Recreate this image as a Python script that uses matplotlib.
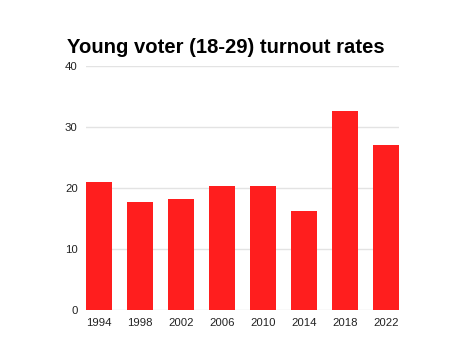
import matplotlib
matplotlib.use("Agg")
import matplotlib.pyplot as plt

years = ["1994", "1998", "2002", "2006", "2010", "2014", "2018", "2022"]
turnout = [20.9, 17.7, 18.2, 20.3, 20.3, 16.2, 32.6, 27.0]
yticks = [0, 10, 20, 30, 40]

fig = plt.figure(figsize=(4.75, 3.56), dpi=100)
ax = fig.add_axes([0.181, 0.129, 0.659, 0.686])

x = range(len(years))
ax.bar(x, turnout, width=0.64, color="#ff1e1e", zorder=3)

ax.set_xlim(-0.32, len(years) - 1 + 0.32)
ax.set_ylim(0, 40)
ax.set_yticks(yticks)
ax.set_yticklabels([str(t) for t in yticks], fontsize=8.2, family="Liberation Sans", color="#222222")
ax.set_xticks(list(x))
ax.set_xticklabels(years, fontsize=8.2, family="Liberation Sans", color="#222222")
ax.tick_params(length=0, pad=6)
ax.tick_params(axis="y", pad=6)
ax.grid(axis="y", color="#e3e3e3", linewidth=1, zorder=0)
for s in ax.spines.values():
    s.set_visible(False)

fig.text(0.141, 0.852, "Young voter (18-29) turnout rates", fontsize=14.6,
         fontweight="heavy", family="Liberation Sans", color="black")

fig.savefig("out.png", dpi=100)
